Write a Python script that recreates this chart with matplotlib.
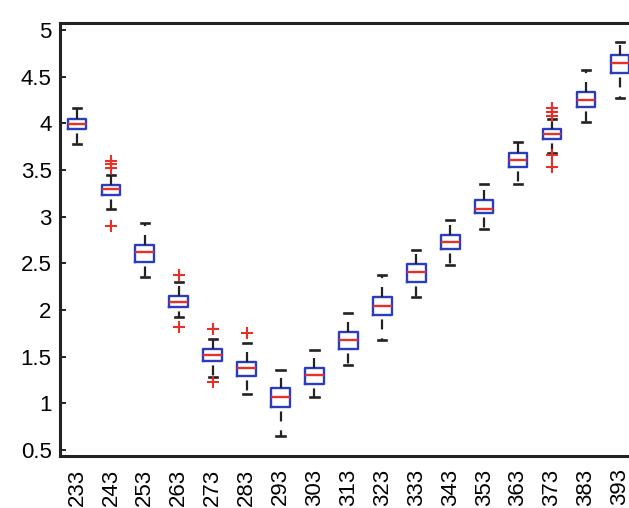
import matplotlib
matplotlib.use("Agg")
import matplotlib.pyplot as plt

plt.rcParams["font.family"] = ["Liberation Sans", "DejaVu Sans"]

# valores
rotulos = ["233", "243", "253", "263", "273", "283", "293", "303", "313",
           "323", "333", "343", "353", "363", "373", "383", "393"]
medianas = [3.99, 3.295, 2.62, 2.09, 1.513, 1.378, 1.063, 1.306, 1.675,
            2.04, 2.408, 2.733, 3.08, 3.61, 3.883, 4.25, 4.65]
q1 = [3.937, 3.233, 2.52, 2.03, 1.449, 1.288, 0.956, 1.207, 1.58,
      1.95, 2.305, 2.652, 3.04, 3.53, 3.83, 4.18, 4.536]
q3 = [4.044, 3.34, 2.70, 2.152, 1.585, 1.438, 1.164, 1.378, 1.765,
      2.136, 2.492, 2.805, 3.18, 3.686, 3.94, 4.333, 4.73]
bigode_inf = [3.776, 3.08, 2.35, 1.924, 1.285, 1.10, 0.653, 1.063, 1.413,
              1.68, 2.145, 2.484, 2.87, 3.35, 3.686, 4.018, 4.27]
bigode_sup = [4.162, 3.45, 2.93, 2.305, 1.69, 1.645, 1.36, 1.576, 1.965,
              2.377, 2.645, 2.966, 3.348, 3.805, 4.05, 4.572, 4.875]
outliers = [[], [3.597, 3.565, 3.52, 2.905], [], [2.38, 1.823],
            [1.795, 1.23], [1.753], [], [], [], [], [], [], [], [],
            [4.162, 4.125, 4.08, 3.66, 3.536], [], []]

stats = []
for i in range(len(rotulos)):
    stats.append({
        "med": medianas[i], "q1": q1[i], "q3": q3[i],
        "whislo": bigode_inf[i], "whishi": bigode_sup[i],
        "fliers": outliers[i], "label": rotulos[i],
    })

fig = plt.figure(figsize=(6.29, 5.08), dpi=100)
ax = fig.add_axes([0.0954, 0.1024, 0.917, 0.852])

res = ax.bxp(stats, widths=0.55, capwidths=0.24,
             boxprops=dict(color="#2b3dbb", linewidth=1.7),
             medianprops=dict(color="#e8302a", linewidth=1.7),
             whiskerprops=dict(color="#222222", linewidth=1.6),
             capprops=dict(color="#222222", linewidth=1.9),
             flierprops=dict(marker="+", markeredgecolor="#e8302a", markersize=8,
                             markeredgewidth=1.5, linestyle="none"))

# bigodes tracejados estilo MATLAB (inferior começa com espaço)
for k, w in enumerate(res["whiskers"]):
    if k % 2 == 0:
        w.set_linestyle((6.5, (4.5, 4)))
    else:
        w.set_linestyle((0, (4.5, 4)))

ax.set_xlim(0.5, len(rotulos) + 0.5)
ax.set_ylim(0.436, 5.075)
yt = [0.5, 1, 1.5, 2, 2.5, 3, 3.5, 4, 4.5, 5]
ax.set_yticks(yt)
ax.set_yticklabels(["0.5", "1", "1.5", "2", "2.5", "3", "3.5", "4", "4.5", "5"])
ax.set_xticklabels(rotulos, rotation=90)
ax.tick_params(axis="y", direction="in", length=4, width=1.2, labelsize=16, pad=6)
ax.tick_params(axis="x", direction="in", length=0, labelsize=16, pad=9)
for lado in ["left", "top", "bottom", "right"]:
    ax.spines[lado].set_linewidth(2.2)
    ax.spines[lado].set_color("#222222")

plt.savefig("out.png", dpi=100)
